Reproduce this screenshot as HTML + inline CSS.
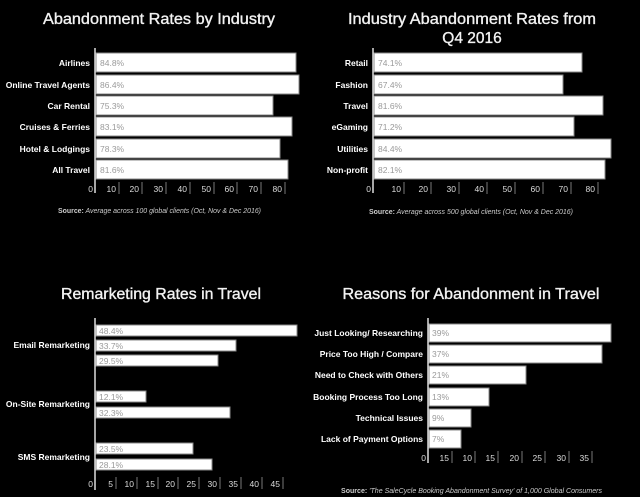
<!DOCTYPE html>
<html><head><meta charset="utf-8"><style>
html,body{margin:0;padding:0;background:#000;}
svg{display:block;}
.t{fill:#f2f2f2;stroke:#f2f2f2;stroke-width:0.35;font-family:"Liberation Sans",sans-serif;font-size:15.5px;text-anchor:middle;}
.c{fill:#fff;font-family:"Liberation Sans",sans-serif;font-size:8.5px;font-weight:bold;text-anchor:end;}
.v{fill:#9a9a9a;font-family:"Liberation Sans",sans-serif;font-size:8.5px;}
.k{fill:#ddd;font-family:"Liberation Sans",sans-serif;font-size:8.5px;text-anchor:end;}
.s{fill:#ccc;font-family:"Liberation Sans",sans-serif;font-size:7px;font-style:italic;}
rect{fill:#fff;stroke:#888;stroke-width:1;}
.ax{stroke:#ddd;stroke-width:1.5;}
.tk{stroke:#777;stroke-width:1;}
</style></head><body>
<svg width="640" height="497" viewBox="0 0 640 497" xmlns="http://www.w3.org/2000/svg">
<rect x="0" y="0" width="640" height="497" style="fill:#000;stroke:none"/>
<text class="t" x="159" y="24" textLength="232" lengthAdjust="spacingAndGlyphs">Abandonment Rates by Industry</text>
<text class="t" x="472" y="24" textLength="248" lengthAdjust="spacingAndGlyphs">Industry Abandonment Rates from</text>
<text class="t" x="472" y="43">Q4 2016</text>
<text class="t" x="161" y="299" textLength="200" lengthAdjust="spacingAndGlyphs">Remarketing Rates in Travel</text>
<text class="t" x="471" y="299" textLength="257" lengthAdjust="spacingAndGlyphs">Reasons for Abandonment in Travel</text>

<g>
<rect x="96" y="53" width="200" height="19"/><rect x="96" y="75" width="203" height="19"/>
<rect x="96" y="96" width="177" height="19"/><rect x="96" y="117" width="196" height="19"/>
<rect x="96" y="139" width="184" height="19"/><rect x="96" y="160" width="192" height="19"/>
<line class="ax" x1="95" y1="48" x2="95" y2="193"/>
<text class="v" x="100" y="66">84.8%</text><text class="v" x="100" y="88">86.4%</text>
<text class="v" x="100" y="109">75.3%</text><text class="v" x="100" y="130">83.1%</text>
<text class="v" x="100" y="152">78.3%</text><text class="v" x="100" y="173">81.6%</text>
<text class="c" x="90" y="66">Airlines</text><text class="c" x="90" y="88">Online Travel Agents</text>
<text class="c" x="90" y="109">Car Rental</text><text class="c" x="90" y="130">Cruises &amp; Ferries</text>
<text class="c" x="90" y="152">Hotel &amp; Lodgings</text><text class="c" x="90" y="173">All Travel</text>
<g class="tk"><line x1="119" y1="182" x2="119" y2="194"/><line x1="142" y1="182" x2="142" y2="194"/><line x1="166" y1="182" x2="166" y2="194"/><line x1="190" y1="182" x2="190" y2="194"/><line x1="214" y1="182" x2="214" y2="194"/><line x1="237" y1="182" x2="237" y2="194"/><line x1="261" y1="182" x2="261" y2="194"/><line x1="285" y1="182" x2="285" y2="194"/></g>
<text class="k" x="93" y="192">0</text><text class="k" x="116" y="192">10</text><text class="k" x="139" y="192">20</text><text class="k" x="163" y="192">30</text><text class="k" x="187" y="192">40</text><text class="k" x="211" y="192">50</text><text class="k" x="234" y="192">60</text><text class="k" x="258" y="192">70</text><text class="k" x="282" y="192">80</text>
<text class="s" x="58" y="213" textLength="203" lengthAdjust="spacingAndGlyphs"><tspan style="font-weight:bold;font-style:normal">Source:</tspan> Average across 100 global clients (Oct, Nov &amp; Dec 2016)</text>
</g>

<g>
<rect x="374" y="53" width="208" height="19"/><rect x="374" y="75" width="189" height="19"/>
<rect x="374" y="96" width="229" height="19"/><rect x="374" y="117" width="200" height="19"/>
<rect x="374" y="139" width="237" height="19"/><rect x="374" y="160" width="231" height="19"/>
<line class="ax" x1="373" y1="48" x2="373" y2="193"/>
<text class="v" x="378" y="66">74.1%</text><text class="v" x="378" y="88">67.4%</text>
<text class="v" x="378" y="109">81.6%</text><text class="v" x="378" y="130">71.2%</text>
<text class="v" x="378" y="152">84.4%</text><text class="v" x="378" y="173">82.1%</text>
<text class="c" x="368" y="66">Retail</text><text class="c" x="368" y="88">Fashion</text>
<text class="c" x="368" y="109">Travel</text><text class="c" x="368" y="130">eGaming</text>
<text class="c" x="368" y="152">Utilities</text><text class="c" x="368" y="173">Non-profit</text>
<g class="tk"><line x1="404" y1="182" x2="404" y2="194"/><line x1="431" y1="182" x2="431" y2="194"/><line x1="459" y1="182" x2="459" y2="194"/><line x1="487" y1="182" x2="487" y2="194"/><line x1="515" y1="182" x2="515" y2="194"/><line x1="543" y1="182" x2="543" y2="194"/><line x1="571" y1="182" x2="571" y2="194"/><line x1="598" y1="182" x2="598" y2="194"/></g>
<text class="k" x="371" y="192">0</text><text class="k" x="401" y="192">10</text><text class="k" x="428" y="192">20</text><text class="k" x="456" y="192">30</text><text class="k" x="484" y="192">40</text><text class="k" x="512" y="192">50</text><text class="k" x="540" y="192">60</text><text class="k" x="568" y="192">70</text><text class="k" x="595" y="192">80</text>
<text class="s" x="369" y="214" textLength="204" lengthAdjust="spacingAndGlyphs"><tspan style="font-weight:bold;font-style:normal">Source:</tspan> Average across 500 global clients (Oct, Nov &amp; Dec 2016)</text>
</g>

<g>
<rect x="96" y="325" width="201" height="11"/><rect x="96" y="340" width="140" height="11"/>
<rect x="96" y="355" width="122" height="11"/><rect x="96" y="391" width="50" height="11"/>
<rect x="96" y="407" width="134" height="11"/><rect x="96" y="443" width="97" height="11"/>
<rect x="96" y="459" width="116" height="11"/>
<line class="ax" x1="95" y1="318" x2="95" y2="490"/>
<text class="v" x="99" y="334">48.4%</text><text class="v" x="99" y="349">33.7%</text>
<text class="v" x="99" y="364">29.5%</text><text class="v" x="99" y="400">12.1%</text>
<text class="v" x="99" y="416">32.3%</text><text class="v" x="99" y="452">23.5%</text>
<text class="v" x="99" y="468">28.1%</text>
<text class="c" x="90" y="348">Email Remarketing</text>
<text class="c" x="90" y="407">On-Site Remarketing</text>
<text class="c" x="90" y="460">SMS Remarketing</text>
<g class="tk"><line x1="116" y1="477" x2="116" y2="489"/><line x1="137" y1="477" x2="137" y2="489"/><line x1="158" y1="477" x2="158" y2="489"/><line x1="178" y1="477" x2="178" y2="489"/><line x1="199" y1="477" x2="199" y2="489"/><line x1="220" y1="477" x2="220" y2="489"/><line x1="241" y1="477" x2="241" y2="489"/><line x1="262" y1="477" x2="262" y2="489"/><line x1="283" y1="477" x2="283" y2="489"/></g>
<text class="k" x="93" y="487">0</text><text class="k" x="113" y="487">5</text><text class="k" x="134" y="487">10</text><text class="k" x="155" y="487">15</text><text class="k" x="175" y="487">20</text><text class="k" x="196" y="487">25</text><text class="k" x="217" y="487">30</text><text class="k" x="238" y="487">35</text><text class="k" x="259" y="487">40</text><text class="k" x="280" y="487">45</text>
</g>

<g>
<rect x="429" y="324" width="182" height="18"/><rect x="429" y="345" width="173" height="18"/>
<rect x="429" y="366" width="97" height="18"/><rect x="429" y="388" width="60" height="18"/>
<rect x="429" y="409" width="42" height="18"/><rect x="429" y="430" width="32" height="18"/>
<line class="ax" x1="428" y1="318" x2="428" y2="463"/>
<text class="v" x="432" y="336">39%</text><text class="v" x="432" y="357">37%</text>
<text class="v" x="432" y="378">21%</text><text class="v" x="432" y="400">13%</text>
<text class="v" x="432" y="421">9%</text><text class="v" x="432" y="442">7%</text>
<text class="c" x="423" y="336">Just Looking/ Researching</text><text class="c" x="423" y="357">Price Too High / Compare</text>
<text class="c" x="423" y="378">Need to Check with Others</text><text class="c" x="423" y="400">Booking Process Too Long</text>
<text class="c" x="423" y="421">Technical Issues</text><text class="c" x="423" y="442">Lack of Payment Options</text>
<g class="tk"><line x1="452" y1="451" x2="452" y2="463"/><line x1="475" y1="451" x2="475" y2="463"/><line x1="498" y1="451" x2="498" y2="463"/><line x1="522" y1="451" x2="522" y2="463"/><line x1="545" y1="451" x2="545" y2="463"/><line x1="569" y1="451" x2="569" y2="463"/><line x1="592" y1="451" x2="592" y2="463"/></g>
<text class="k" x="426" y="461">0</text><text class="k" x="449" y="461">15</text><text class="k" x="472" y="461">10</text><text class="k" x="495" y="461">15</text><text class="k" x="519" y="461">20</text><text class="k" x="542" y="461">25</text><text class="k" x="566" y="461">30</text><text class="k" x="589" y="461">35</text>
<text class="s" x="341" y="493" textLength="261" lengthAdjust="spacingAndGlyphs"><tspan style="font-weight:bold;font-style:normal">Source:</tspan> 'The SaleCycle Booking Abandonment Survey' of 1,000 Global Consumers</text>
</g>
</svg>
</body></html>
